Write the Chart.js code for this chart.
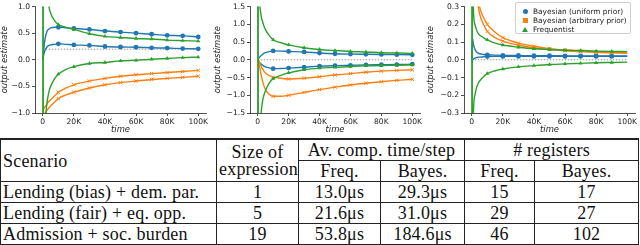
<!DOCTYPE html>
<html>
<head>
<meta charset="utf-8">
<script src="https://cdn.jsdelivr.net/npm/chart.js@4.4.1/dist/chart.umd.min.js"></script>
<style>
body { margin: 0; width: 640px; height: 245px; background: #fff; position: relative; overflow: hidden; }
.plot { position: absolute; top: 0; height: 136px; }
#legend {
    position: absolute; left: 515px; top: 2px; width: 116px; height: 32px;
    border: 1px solid #d0d0d0; border-radius: 2px; background: rgba(255,255,255,0.85);
    font-family: 'DejaVu Sans'; font-size: 7.4px; color: #222; padding-top: 4px; box-sizing: border-box;
}
#legend .row { height: 9px; line-height: 9px; position: relative; padding-left: 17px; white-space: nowrap; }
#legend .mk { position: absolute; left: 7px; top: 2px; width: 5px; height: 5px; }
#legend .circ { background: #1f77b4; border-radius: 50%; }
#legend .sq { background: #ff7f0e; }
#legend .tri { width: 0; height: 0; border-left: 3px solid transparent; border-right: 3px solid transparent; border-bottom: 5px solid #2ca02c; left: 6px; }
#results {
    position: absolute; left: 0; top: 138px; width: 638px; table-layout: fixed;
    border-collapse: collapse; font-family: 'Liberation Serif'; font-size: 18px; letter-spacing: 0.2px; color: #111;
}
#results tr:first-child td { border-top-width: 2px; }
#results td { border: 1px solid #222; height: 20px; padding: 0 2px; line-height: 18px; text-align: center; white-space: nowrap; }
#results td.left { text-align: left; }
</style>
</head>
<body>
<div class="plot" style="left:0;width:213px"><canvas id="chart1"></canvas></div>
<div class="plot" style="left:213px;width:213px"><canvas id="chart2"></canvas></div>
<div class="plot" style="left:426px;width:214px"><canvas id="chart3"></canvas></div>
<div id="legend">
    <div class="row"><span class="mk circ"></span>Bayesian (uniform prior)</div>
    <div class="row"><span class="mk sq"></span>Bayesian (arbitrary prior)</div>
    <div class="row"><span class="mk tri"></span>Frequentist</div>
</div>
<table id="results">
    <colgroup><col style="width:216px"><col style="width:82px"><col style="width:82px"><col style="width:84px"><col style="width:70px"><col style="width:104px"></colgroup>
    <tr><td class="left" rowspan="2">Scenario</td><td rowspan="2" style="line-height:17px">Size of<br>expression</td><td colspan="2">Av. comp. time/step</td><td colspan="2"># registers</td></tr>
    <tr><td>Freq.</td><td>Bayes.</td><td>Freq.</td><td>Bayes.</td></tr>
</table>
<script>
// sample times shared by every curve
const steps = [0, 500, 1000, 2000, 3000, 4000, 5000, 7500, 10000, 15000, 20000, 30000, 40000, 50000, 60000, 70000, 80000, 90000, 100000];
const xTicks = [0, 20000, 40000, 60000, 80000, 100000];

// panel 1: lending (bias) + demographic parity, true value 0.2
const p1Truth = 0.2;
const p1UniformA = [0.0, 0.15, 0.3, 0.47, 0.55, 0.58, 0.6, 0.61, 0.61, 0.6, 0.59, 0.57, 0.54, 0.52, 0.50, 0.48, 0.46, 0.45, 0.43];
const p1UniformB = [0.0, 0.08, 0.14, 0.21, 0.25, 0.27, 0.28, 0.29, 0.30, 0.29, 0.28, 0.27, 0.25, 0.24, 0.235, 0.225, 0.22, 0.21, 0.205];
const p1ArbitraryA = [-0.98, -0.93, -0.9, -0.86, -0.82, -0.78, -0.75, -0.68, -0.61, -0.53, -0.47, -0.40, -0.35, -0.31, -0.28, -0.26, -0.24, -0.22, -0.20];
const p1ArbitraryB = [-1.1, -1.05, -1.02, -0.98, -0.94, -0.9, -0.87, -0.8, -0.73, -0.66, -0.61, -0.53, -0.47, -0.43, -0.40, -0.37, -0.35, -0.33, -0.31];
const p1FreqA = [-3, 4, 2.6, 1.8, 1.25, 1.0, 0.88, 0.74, 0.66, 0.61, 0.57, 0.49, 0.44, 0.42, 0.40, 0.39, 0.37, 0.36, 0.35];
const p1FreqB = [3, -3, -2, -1.05, -0.75, -0.6, -0.5, -0.36, -0.27, -0.18, -0.13, -0.07, -0.05, -0.02, -0.01, 0.01, 0.025, 0.04, 0.05];
const p1YTicks = [-1.0, -0.5, 0.0, 0.5, 1.0];

// panel 2: lending (fair) + equal opportunity, true value 0
const p2Truth = 0.0;
const p2UniformA = [0.0, 0.03, 0.06, 0.11, 0.15, 0.18, 0.2, 0.23, 0.25, 0.245, 0.235, 0.22, 0.19, 0.17, 0.16, 0.155, 0.15, 0.145, 0.14];
const p2UniformB = [0.0, -0.03, -0.06, -0.11, -0.15, -0.18, -0.2, -0.23, -0.25, -0.245, -0.235, -0.21, -0.18, -0.165, -0.155, -0.145, -0.14, -0.135, -0.125];
const p2ArbitraryA = [0.05, 0.0, -0.06, -0.16, -0.25, -0.32, -0.37, -0.45, -0.49, -0.52, -0.54, -0.52, -0.48, -0.43, -0.39, -0.35, -0.32, -0.30, -0.28];
const p2ArbitraryB = [0.05, -0.05, -0.15, -0.38, -0.58, -0.73, -0.84, -0.98, -1.03, -1.03, -1.0, -0.92, -0.84, -0.77, -0.71, -0.66, -0.62, -0.58, -0.55];
const p2FreqA = [-3, 4, 2.0, 1.3, 1.1, 0.95, 0.85, 0.68, 0.56, 0.48, 0.42, 0.34, 0.29, 0.26, 0.235, 0.22, 0.2, 0.19, 0.18];
const p2FreqB = [3, -3, -2.5, -1.6, -1.2, -1.0, -0.87, -0.65, -0.53, -0.44, -0.37, -0.28, -0.235, -0.215, -0.19, -0.17, -0.16, -0.155, -0.145];
const p2YTicks = [-1.5, -1.0, -0.5, 0.0, 0.5, 1.0, 1.5];

// panel 3: admission + social burden, true value 0
const p3Truth = 0.0;
const p3UniformA = [0.0, 0.12, 0.09, 0.06, 0.045, 0.038, 0.034, 0.03, 0.028, 0.026, 0.025, 0.024, 0.023, 0.023, 0.022, 0.022, 0.022, 0.022, 0.021];
const p3UniformB = [-0.005, 0.0, 0.004, 0.009, 0.012, 0.014, 0.015, 0.017, 0.018, 0.019, 0.019, 0.019, 0.019, 0.019, 0.019, 0.019, 0.019, 0.019, 0.019];
const p3ArbitraryA = [1.5, 1.2, 0.9, 0.6, 0.45, 0.36, 0.3, 0.24, 0.2, 0.155, 0.125, 0.094, 0.076, 0.063, 0.055, 0.049, 0.045, 0.042, 0.039];
const p3ArbitraryB = [1.2, 1.0, 0.75, 0.5, 0.38, 0.31, 0.26, 0.2, 0.16, 0.125, 0.105, 0.082, 0.068, 0.058, 0.051, 0.046, 0.042, 0.039, 0.036];
const p3FreqA = [-1.0, 1.0, 0.3, 0.2, 0.17, 0.15, 0.14, 0.125, 0.112, 0.094, 0.083, 0.071, 0.062, 0.058, 0.054, 0.052, 0.049, 0.047, 0.046];
const p3FreqB = [1.0, -1.0, -0.32, -0.2, -0.16, -0.135, -0.12, -0.095, -0.078, -0.062, -0.052, -0.04, -0.033, -0.027, -0.023, -0.02, -0.017, -0.015, -0.013];
const p3YTicks = [-0.3, -0.2, -0.1, 0.0, 0.1, 0.2, 0.3];

// table
const scenarios = ['Lending (bias) + dem. par.', 'Lending (fair) + eq. opp.', 'Admission + soc. burden'];
const exprSize = ['1', '5', '19'];
const freqTime = ['13.0μs', '21.6μs', '53.8μs'];
const bayesTime = ['29.3μs', '31.0μs', '184.6μs'];
const freqRegs = ['15', '29', '46'];
const bayesRegs = ['17', '27', '102'];

const blue = '#1f77b4';
const orange = '#ff7f0e';
const green = '#2ca02c';
const tickFont = { family: 'DejaVu Sans', size: 7.6 };
const titleFont = { family: 'DejaVu Sans', size: 8.4, style: 'italic' };

function fmtY(v) {
    if (Math.abs(v) < 1e-9) return '0.0';
    return (v < 0 ? '\u2212' : '') + Math.abs(v).toFixed(1);
}

function curve(values, color, style, order, lastMark) {
    return {
        data: steps.map((t, i) => ({ x: t, y: values[i] })),
        borderColor: color,
        backgroundColor: color,
        borderWidth: 1.4,
        pointStyle: style,
        pointBorderWidth: style === 'crossRot' ? 1 : 0,
        pointRadius: ctx => {
            const t = steps[ctx.dataIndex];
            return (t >= 10000 && t % 10000 === 0 && t <= lastMark) ? 2.4 : 0;
        },
        cubicInterpolationMode: 'monotone',
        order: order
    };
}

function drawPanel(id, truth, uA, uB, aA, aB, fA, fB, yTicks, yWidth, rightPad, lastMark) {
    const ctx = document.getElementById(id).getContext('2d');
    const datasets = [
        curve(uA, blue, 'circle', 3, lastMark),
        curve(uB, blue, 'circle', 3, lastMark),
        curve(aA, orange, 'crossRot', 2, lastMark),
        curve(aB, orange, 'crossRot', 2, lastMark),
        curve(fA, green, 'triangle', 1, lastMark),
        curve(fB, green, 'triangle', 1, lastMark),
        {
            data: [{ x: 0, y: truth }, { x: 100000, y: truth }],
            borderColor: '#8a8a8a',
            borderWidth: 0.9,
            borderDash: [1.5, 1.5],
            pointRadius: 0,
            order: 10
        }
    ];
    new Chart(ctx, {
        type: 'line',
        data: { datasets: datasets },
        options: {
            responsive: true,
            maintainAspectRatio: false,
            animation: false,
            events: [],
            layout: { padding: { top: 3, right: rightPad, bottom: 1, left: 0 } },
            plugins: { legend: { display: false }, tooltip: { enabled: false } },
            scales: {
                x: {
                    type: 'linear',
                    min: -5000,
                    max: 105000,
                    afterBuildTicks: s => { s.ticks = xTicks.map(v => ({ value: v })); },
                    afterFit: s => { s.height = 22; },
                    ticks: {
                        font: tickFont, color: '#222', padding: 1, maxRotation: 0,
                        callback: v => v === 0 ? '0' : (v / 1000) + 'K'
                    },
                    grid: { drawOnChartArea: false, drawTicks: true, tickLength: 3, color: '#222', lineWidth: 0.8 },
                    border: { display: true, color: '#222', width: 0.8 },
                    title: { display: true, text: 'time', font: titleFont, color: '#222', padding: 0 }
                },
                y: {
                    min: yTicks[0],
                    max: yTicks[yTicks.length - 1],
                    afterBuildTicks: s => { s.ticks = yTicks.map(v => ({ value: v })); },
                    afterFit: s => { s.width = yWidth; },
                    ticks: { font: tickFont, color: '#222', padding: 2, callback: v => fmtY(v) },
                    grid: { drawOnChartArea: false, drawTicks: true, tickLength: 3, color: '#222', lineWidth: 0.8 },
                    border: { display: true, color: '#222', width: 0.8 },
                    title: { display: true, text: 'output estimate', font: titleFont, color: '#222', padding: 0 }
                }
            }
        }
    });
}

function fillTable() {
    const table = document.getElementById('results');
    for (let i = 0; i < scenarios.length; i++) {
        const row = table.insertRow();
        const cells = [scenarios[i], exprSize[i], freqTime[i], bayesTime[i], freqRegs[i], bayesRegs[i]];
        cells.forEach((text, j) => {
            const cell = row.insertCell();
            cell.textContent = text;
            if (j === 0) cell.className = 'left';
        });
    }
}

drawPanel('chart1', p1Truth, p1UniformA, p1UniformB, p1ArbitraryA, p1ArbitraryB, p1FreqA, p1FreqB, p1YTicks, 35, 7, 100000);
drawPanel('chart2', p2Truth, p2UniformA, p2UniformB, p2ArbitraryA, p2ArbitraryB, p2FreqA, p2FreqB, p2YTicks, 37, 6, 100000);
drawPanel('chart3', p3Truth, p3UniformA, p3UniformB, p3ArbitraryA, p3ArbitraryB, p3FreqA, p3FreqB, p3YTicks, 38, 5, 90000);
fillTable();
</script>
</body>
</html>
